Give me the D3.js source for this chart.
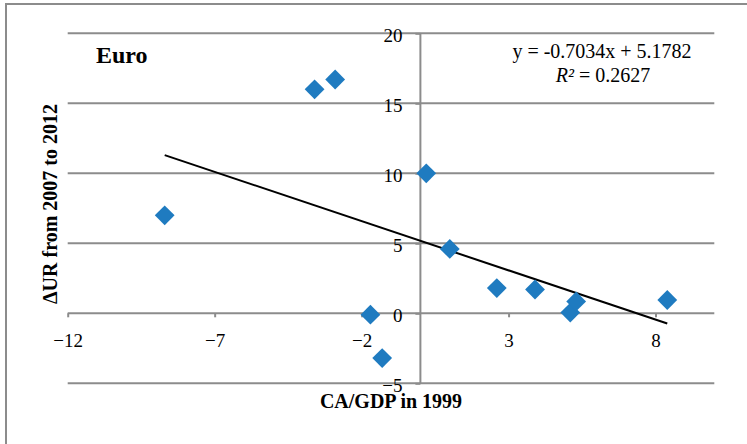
<!DOCTYPE html>
<html>
<head>
<meta charset="utf-8">
<script src="https://cdn.jsdelivr.net/npm/d3@7.9.0/dist/d3.min.js"></script>
<style>
  body { margin: 0; background: #fff; }
  svg { display: block; font-family: "Liberation Serif", "Times New Roman", serif; }
  .grid line { stroke: #8c8c8c; stroke-width: 2; }
  .axis path { display: none; }
  .axis line { stroke: #8c8c8c; stroke-width: 2; }
  .axis text { font-family: "Liberation Serif", "Times New Roman", serif; font-size: 19px; fill: #000; }
</style>
</head>
<body>
<div id="chart"></div>
<script>
/* ---------- data --------- */
const caGdp   = [-8.7, -3.6, -2.9, 0.2, 1.0, 2.6, 3.9, 5.1, 5.3, 8.4, -1.7, -1.3];
const deltaUR = [ 7.0, 16.0, 16.7, 10.0, 4.6, 1.8, 1.7, 0.05, 0.85, 0.95, -0.1, -3.2];
const xTicks = [-12, -7, -2, 3, 8];
const yTicks = [-5, 0, 5, 10, 15, 20];
const slope = -0.7034, intercept = 5.1782;
const eqLabel = 'y = -0.7034x + 5.1782';
const r2Value = '0.2627';

const points = caGdp.map((x, i) => ({ x, y: deltaUR[i] }));

/* ---------- setup --------- */
const W = 747, H = 444;
const area = { l: 67.7, r: 714.3, t: 33.3, b: 383.3 };

const svg = d3.select('#chart').append('svg')
  .attr('width', W).attr('height', H);

svg.append('rect').attr('width', W).attr('height', H).attr('fill', '#fff');

// outer chart border (only top & left visible)
svg.append('rect')
  .attr('x', 6).attr('y', 4).attr('width', W + 20).attr('height', H + 20)
  .attr('fill', 'none').attr('stroke', '#8c8c8c').attr('stroke-width', 2);

const xScale = d3.scaleLinear().domain([-12, 10]).range([area.l, area.r]);
const yScale = d3.scaleLinear().domain([-5, 20]).range([area.b, area.t]);

/* ---------- gridlines --------- */
svg.append('g').attr('class', 'grid')
  .selectAll('line').data(yTicks).join('line')
  .attr('x1', area.l).attr('x2', area.r)
  .attr('y1', d => yScale(d)).attr('y2', d => yScale(d));

// vertical axis line at x = 0
svg.append('line')
  .attr('x1', xScale(0)).attr('x2', xScale(0))
  .attr('y1', yScale(20)).attr('y2', yScale(-5))
  .attr('stroke', '#8c8c8c').attr('stroke-width', 2);

/* ---------- axes --------- */
const gx = svg.append('g').attr('class', 'axis')
  .attr('transform', `translate(0,${yScale(0)})`)
  .call(d3.axisBottom(xScale).tickValues(xTicks).tickSize(4).tickFormat(d3.format('d')));
gx.attr('font-family', null).attr('font-size', null);
gx.selectAll('text').attr('y', 34).attr('dy', null);

const gy = svg.append('g').attr('class', 'axis')
  .attr('transform', `translate(${xScale(0)},0)`)
  .call(d3.axisLeft(yScale).tickValues(yTicks).tickSize(5).tickFormat(d3.format('d')));
gy.attr('font-family', null).attr('font-size', null);
gy.selectAll('text').attr('x', -18).attr('dy', '0.42em');

/* ---------- trend line --------- */
const [xMin, xMax] = d3.extent(points, d => d.x);
svg.append('line')
  .attr('x1', xScale(xMin)).attr('y1', yScale(slope * xMin + intercept))
  .attr('x2', xScale(xMax)).attr('y2', yScale(slope * xMax + intercept))
  .attr('stroke', '#000').attr('stroke-width', 2);

/* ---------- markers --------- */
const diamond = d3.symbol().type(d3.symbolSquare).size(196);
svg.append('g')
  .selectAll('path').data(points).join('path')
  .attr('d', diamond)
  .attr('transform', d => `translate(${xScale(d.x)},${yScale(d.y)}) rotate(45)`)
  .attr('fill', '#1f7bc0');

/* ---------- labels --------- */
svg.append('text')
  .attr('x', 96).attr('y', 63)
  .attr('font-size', 24).attr('font-weight', 'bold')
  .text('Euro');

svg.append('text')
  .attr('x', 602).attr('y', 58).attr('text-anchor', 'middle')
  .attr('font-size', 20)
  .text(eqLabel);

const r2 = svg.append('text')
  .attr('x', 603).attr('y', 82).attr('text-anchor', 'middle')
  .attr('font-size', 20);
r2.append('tspan').attr('font-style', 'italic').text('R²');
r2.append('tspan').text(' = ' + r2Value);

svg.append('text')
  .attr('x', 391).attr('y', 408).attr('text-anchor', 'middle')
  .attr('font-size', 20).attr('font-weight', 'bold')
  .text('CA/GDP in 1999');

svg.append('text')
  .attr('transform', 'translate(57,204) rotate(-90)')
  .attr('text-anchor', 'middle')
  .attr('font-size', 20).attr('font-weight', 'bold')
  .text('ΔUR from 2007 to 2012');
</script>
</body>
</html>
